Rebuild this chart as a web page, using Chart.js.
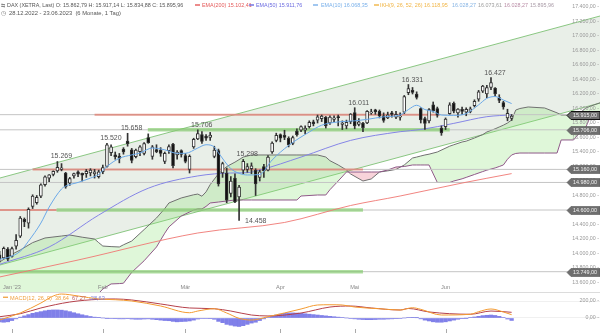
<!DOCTYPE html>
<html><head><meta charset="utf-8"><title>DAX</title>
<script src="https://cdn.jsdelivr.net/npm/chart.js@4.4.0/dist/chart.umd.min.js"></script>
<style>
html,body{margin:0;padding:0;background:#fff;overflow:hidden}
#wrap{position:relative;width:600px;height:333px;background:#fff}
canvas{position:absolute;left:0;display:block}
</style></head><body>
<div id="wrap">
<canvas id="main" width="600" height="292" style="top:0;width:600px;height:292px"></canvas>
<canvas id="macd" width="600" height="41" style="top:292px;width:600px;height:41px"></canvas>
</div>
<script>
// ---------------- DATA ----------------
const opens = [13980,13940,14060,13960,14100,14240,14470,14420,14650,14700,
14790,14950,15040,15090,15140,15160,15110,14970,15070,15125,
15105,15100,15110,15100,15060,15130,15200,15390,15360,15345,
15440,15550,15430,15335,15405,15380,15600,15340,15435,15425,
15270,15420,15510,15360,15420,15350,15160,15470,15580,15640,
15620,15600,15340,15420,15110,15110,14830,15040,14780,15150,
15160,15170,15150,15050,15200,15150,15400,15560,15640,15630,
15590,15520,15690,15700,15700,15750,15815,15840,15860,15880,
15800,15850,15890,15780,15760,15820,15945,15780,15800,15800,
15940,15980,15960,15900,15870,15940,15880,15880,15950,16220,
16250,16200,16000,15860,15830,16050,16000,15730,15750,15930,
16070,15940,15990,15950,15960,16040,16130,16240,16200,16290,
16280,16150,16080,15870,15862.79];
const highs = [14030,14090,14080,14090,14260,14510,14490,14630,14810,14800,
14960,15070,15090,15140,15269,15240,15120,15050,15110,15140,
15110,15160,15170,15160,15150,15220,15520,15500,15400,15380,
15460,15658,15450,15440,15490,15530,15650,15490,15500,15460,
15400,15500,15520,15420,15430,15380,15360,15590,15706,15680,
15640,15670,15480,15440,15260,15180,15060,15100,14940,15298,
15240,15250,15170,15150,15230,15350,15540,15660,15650,15700,
15610,15620,15720,15760,15760,15830,15840,15910,15910,15890,
15900,15900,15910,15830,15840,15930,16011,15860,15810,15970,
15990,15990,15980,15940,15950,15960,15960,15940,16180,16331,
16290,16230,16010,15880,16000,16090,16020,15760,15870,16080,
16090,16000,16020,16010,16020,16120,16250,16320,16320,16427,
16290,16190,16100,15990,15917.14];
const lows = [13880,13930,13900,13950,14060,14220,14370,14350,14620,14680,
14770,14930,14990,15070,15120,15140,14900,14940,15040,15060,
15000,15050,15070,15040,15040,15100,15190,15350,15300,15250,
15370,15480,15250,15320,15350,15360,15520,15300,15390,15340,
15240,15380,15180,15300,15330,15250,15110,15450,15570,15520,
15560,15560,15320,14930,15050,14700,14780,14700,14458,15100,
15120,15100,14800,15000,15050,15140,15380,15540,15540,15570,
15470,15500,15620,15680,15650,15730,15760,15800,15820,15730,
15780,15820,15760,15710,15720,15790,15720,15760,15680,15790,
15920,15920,15870,15810,15860,15880,15860,15840,15930,16190,
16200,16130,15800,15710,15800,15950,15880,15630,15710,15920,
15940,15880,15920,15900,15940,16020,16100,16220,16150,16260,
16170,16080,15990,15830,15834.88];
const closes = [13925,14071,13923,14069,14182,14490,14436,14610,14792,14774,
14948,15058,15086,15134,15187,15181,14920,15033,15103,15094,
15081,15132,15150,15126,15128,15185,15500,15470,15335,15312,
15400,15515,15285,15425,15470,15515,15530,15470,15405,15380,
15380,15475,15210,15400,15365,15270,15340,15575,15655,15545,
15590,15634,15428,14960,15240,14735,15000,14710,14915,15270,
15200,15210,14960,15128,15140,15330,15522,15630,15590,15600,
15500,15598,15640,15750,15729,15810,15790,15885,15895,15760,
15880,15870,15872,15800,15810,15922,15760,15815,15734,15961,
15952,15955,15897,15834,15914,15918,15920,15897,16163,16275,
16223,16152,15842,15793,15984,15970,15909,15664,15853,16051,
15963,15992,15960,15989,15995,16098,16231,16310,16290,16358,
16201,16111,16023,15935,15895.96];

const ema10Idx = [0,2,5,7,10,12,15,16,19,22,24,26,29,32,34,37,40,43,45,48,50,52,53,56,58,60,63,66,70,75,78,82,86,89,93,97,99,101,103,105,107,110,113,116,118,120,122,124];
const ema10Val = [13920,13945,14030,14170,14420,14640,14890,14930,14980,15040,15090,15200,15313,15360,15386,15455,15430,15382,15382,15455,15500,15470,15390,15170,15106,15083,15090,15290,15490,15676,15770,15815,15830,15850,15885,15910,15985,16045,15985,15960,15910,15905,15930,16050,16140,16165,16117,16068];
const ema50Idx = [0,12,24,36,48,56,60,63,73,85,97,102,110,118,124];
const ema50Val = [13850,14090,14530,14900,15070,15110,15115,15150,15330,15560,15680,15710,15795,15887,15912];
const ema200Idx = [0,19,48,69,85,97,112,124];
const ema200Val = [13676,13910,14283,14428,14662,14793,14972,15102];

// Ichimoku cloud (Senkou A = grey, Senkou B = purple), shifted 26 bars ahead
const cloudIdx = [0,3,5,8,11,15,17,20,23,24,25,27,29,30,32,35,38,40,41,44,47,48,49,50,51,53,55,57,59,61,72,73,77,79,80,82,84,85,88,90,92,94,96,98,100,101,102,103,104,106,109,110,112,113,115,117,118,120,121,122,123,124,125,126,128,132,135,136,139,141,142,143,146];
const spanA = [13883,13990,14048,14150,14214,14241,14255,14225,14200,14150,14103,14095,14090,14120,14172,14330,14490,14620,14697,14766,14810,14820,14790,14850,14950,15100,15200,15260,15330,15359,15359,15359,15359,15331,15280,15221,15152,15097,15000,15028,15124,15140,15160,15221,15317,15330,15345,15359,15370,15400,15480,15500,15538,15550,15593,15640,15676,15720,15745,15770,15800,15841,15979,16000,16021,16007,15940,15910,15910,15960,16007,16030,16090];
const spanB = [13250,13250,13250,13250,13250,13250,13250,13250,13300,13450,13510,13580,13585,13590,13740,13900,14090,14280,14366,14517,14600,14614,14614,14650,14697,14710,14724,14738,14738,14738,14738,14793,14807,14807,14880,15000,15124,15124,15124,15124,15124,15152,15193,15200,15221,15221,15221,15221,15221,14980,14980,15000,15030,15050,15090,15130,15150,15180,15200,15221,15300,15359,15380,15386,15386,15386,15386,15566,15566,15700,15745,15883,15910];

// trend channel (bar index -> price)
const channelIdx = [0, 146];
const channelUpper = [15040, 17285];
const channelLower = [13840, 16085];

// horizontal levels
const levels = [15915, 15706, 15160, 14980, 14600, 13749];
const redLevel = [15915, 15160, 14600];
const redFrom = [23, 8, -2];
const redTo = [106.6, 88, 13.8];
const greenLevel = [15706, 14600, 13749];
const greenFrom = [35.9, 13.8, -2];
const greenTo = [109, 88, 88];

// marked extremes (bar index)
const highMarks = [14, 26, 31, 48, 59, 86, 99, 119];
const lowMarks = [58];

// axis ticks
const priceTicks = [13600,13800,14000,14200,14400,14600,14800,15000,15200,15400,15600,15800,16000,16200,16400,16600,16800,17000,17200,17400];
const monthIdx = [3, 25, 45, 68, 86, 108];
const monthLabels = ["Jan '23", "Feb", "Mär", "Apr", "Mai", "Jun"];

// MACD(12,26,9)
const macdIdx = [0,5,10,13,15,19,24,28,32,39,46,48,52,55,58,61,65,73,77,80,83,86,92,97,100,102,107,114,116,119,122,124];
const macdVal = [-24,59,176,259,282,259,224,215,200,141,62,82,109,59,-4,-24,15,106,153,156,153,129,109,94,121,102,35,44,74,106,71,39];
const sigIdx = [0,5,10,17,24,28,32,39,46,52,56,61,65,73,80,85,90,97,99,104,114,119,124];
const sigVal = [15,50,118,188,220,224,212,165,118,109,82,35,24,59,129,141,118,94,112,71,44,82,67];
const hist = [-45,-50,-45,-30,-10,10,25,40,55,65,
75,85,92,95,95,92,85,75,62,50,
38,28,18,10,4,0,-3,-5,-8,-10,
-10,-8,-12,-15,-15,-12,-10,-15,-20,-25,
-30,-32,-40,-45,-42,-40,-35,-25,-12,-5,
-5,-8,-15,-40,-55,-75,-85,-95,-100,-90,
-75,-60,-50,-30,-10,5,20,35,45,55,
60,60,58,55,50,45,40,35,30,25,
20,15,10,5,0,-5,-10,-15,-18,-20,
-20,-18,-15,-15,-12,-10,-8,-5,0,5,
8,3,-10,-25,-35,-45,-50,-50,-45,-35,
-25,-15,-8,-2,5,12,20,28,32,35,
30,20,5,-12,-29];
const macdTicks = [0, 200];

// ---------------- HELPERS ----------------
const FONT = '"Liberation Sans", Arial, Helvetica, sans-serif';
function fmt(v, d) {
  if (d === undefined) d = 2;
  const neg = v < 0; v = Math.abs(v);
  const s = v.toFixed(d).split('.');
  const i = s[0].replace(/\B(?=(\d{3})+(?!\d))/g, '.');
  return (neg ? '-' : '') + i + (d ? ',' + s[1] : '');
}
const pts = (xs, ys) => xs.map((x, i) => ({x: x, y: ys[i]}));
const X_MIN = 0.1, X_MAX = 145.4;
const Y_MIN = 13469.0, Y_MAX = 17496.55;

// ---------------- MAIN CHART ----------------
const ds = [];
const base = {type: 'line', pointRadius: 0, pointHoverRadius: 0, borderWidth: 1, tension: 0, fill: false};
ds.push(Object.assign({}, base, {data: pts(channelIdx, channelUpper), borderColor: 'rgba(120,190,110,0.85)',
  fill: {target: 1, above: 'rgba(165,190,160,0.24)', below: 'rgba(165,190,160,0.24)'}, order: 100}));
ds.push(Object.assign({}, base, {data: pts(channelIdx, channelLower), borderColor: 'rgba(120,190,110,0.85)', order: 99}));
ds.push(Object.assign({}, base, {data: pts(cloudIdx, spanA), borderColor: '#707070',
  fill: {target: 3, above: 'rgba(140,225,120,0.28)', below: 'rgba(235,130,150,0.35)'}, order: 90}));
ds.push(Object.assign({}, base, {data: pts(cloudIdx, spanB), borderColor: '#8e5a88', order: 89}));
levels.forEach(v => ds.push(Object.assign({}, base, {data: [{x: -2, y: v}, {x: 148, y: v}], borderColor: '#c4c4c4', order: 80})));
redLevel.forEach((v, k) => ds.push(Object.assign({}, base, {data: [{x: redFrom[k], y: v}, {x: redTo[k], y: v}], borderColor: 'rgba(225,120,105,0.7)', borderWidth: 2, order: 79})));
greenLevel.forEach((v, k) => ds.push(Object.assign({}, base, {data: [{x: greenFrom[k], y: v}, {x: greenTo[k], y: v}], borderColor: 'rgba(120,200,95,0.6)', borderWidth: 3.5, order: 78})));
ds.push(Object.assign({}, base, {data: pts(ema200Idx, ema200Val), borderColor: 'rgba(240,120,115,0.9)', cubicInterpolationMode: 'monotone', order: 70}));
ds.push(Object.assign({}, base, {data: pts(ema50Idx, ema50Val), borderColor: '#8585e6', cubicInterpolationMode: 'monotone', order: 69}));
ds.push({type: 'bar', data: lows.map((l, i) => ({x: i, y: [l, highs[i]]})), backgroundColor: '#333', barThickness: 1, grouped: false, order: 60});
ds.push({type: 'bar', data: opens.map((o, i) => ({x: i, y: [Math.min(o, closes[i]), Math.max(o, closes[i])]})),
  backgroundColor: opens.map((o, i) => closes[i] >= o ? '#ffffff' : '#111111'),
  borderColor: '#333', borderWidth: 1, borderSkipped: false, barThickness: 3, minBarLength: 1, grouped: false, order: 59});
ds.push(Object.assign({}, base, {data: pts(ema10Idx, ema10Val), borderColor: '#6aa8e8', cubicInterpolationMode: 'monotone', order: 50}));

function drawTag(ctx, v, py, strong) {
  ctx.beginPath();
  ctx.moveTo(567, py); ctx.lineTo(571, py - 4); ctx.lineTo(600, py - 4); ctx.lineTo(600, py + 4); ctx.lineTo(571, py + 4); ctx.closePath();
  ctx.fillStyle = '#6e6e6e'; ctx.fill();
  ctx.lineWidth = strong ? 1 : 0.6; ctx.strokeStyle = strong ? '#111' : '#555'; ctx.stroke();
  ctx.font = '5.4px ' + FONT; ctx.fillStyle = '#f2f2f2'; ctx.textAlign = 'right'; ctx.textBaseline = 'middle';
  ctx.fillText(fmt(v), 597, py + 0.3);
}

// header pieces: text, colour, left x (dash = x of the little colour bar)
const header1 = [
  {x: 7, t: 'DAX (XETRA, Last) O: 15.862,79 H: 15.917,14 L: 15.834,88 C: 15.895,96', c: '#555'},
  {x: 202, t: 'EMA(200) 15.102,41', c: '#e45a5a', dash: 195},
  {x: 256, t: 'EMA(50) 15.911,76', c: '#6b6be0', dash: 249},
  {x: 321, t: 'EMA(10) 16.068,35', c: '#79b0ea', dash: 313},
  {x: 380, t: 'IKH(9, 26, 52, 26) 16.118,95', c: '#f1b545', dash: 374},
  {x: 452, t: '16.028,27', c: '#86b4e4'},
  {x: 478, t: '16.073,61', c: '#9c9c9c'},
  {x: 504, t: '16.028,27', c: '#b98ca5'},
  {x: 530, t: '15.895,96', c: '#a89aa6'}
];

const mainOverlay = {
  id: 'mainOverlay',
  afterDraw(chart) {
    const ctx = chart.ctx, xs = chart.scales.x, ys = chart.scales.y;
    ctx.save();
    ctx.font = '7px ' + FONT; ctx.fillStyle = '#555'; ctx.textBaseline = 'alphabetic'; ctx.textAlign = 'center';
    highMarks.forEach(i => ctx.fillText(fmt(highs[i], 0), xs.getPixelForValue(i) + 4, ys.getPixelForValue(highs[i]) - 3));
    ctx.textAlign = 'left'; ctx.textBaseline = 'middle';
    lowMarks.forEach(i => ctx.fillText(fmt(lows[i], 0), xs.getPixelForValue(i) + 6, ys.getPixelForValue(lows[i]) + 0.5));
    levels.forEach((v, k) => drawTag(ctx, v, Math.round(ys.getPixelForValue(v)) + 0.5, k === 0));
    ctx.font = '5.6px ' + FONT; ctx.fillStyle = '#888'; ctx.textAlign = 'center'; ctx.textBaseline = 'middle';
    monthIdx.forEach((m, k) => ctx.fillText(monthLabels[k], xs.getPixelForValue(m), 287));
    ctx.textAlign = 'left'; ctx.textBaseline = 'alphabetic'; ctx.font = '5.4px ' + FONT;
    ctx.fillStyle = '#888'; ctx.fillText('\u21C6', 1, 7);
    header1.forEach(h => {
      ctx.fillStyle = h.c;
      if (h.dash !== undefined) ctx.fillRect(h.dash, 4.3, 5, 1.4);
      ctx.fillText(h.t, h.x, 7);
    });
    ctx.font = '5.8px ' + FONT;
    ctx.fillStyle = '#777'; ctx.fillText('\u25F7', 1, 15.3);
    ctx.fillStyle = '#555'; ctx.fillText('28.12.2022 - 23.06.2023  (6 Monate, 1 Tag)', 9, 15.3);
    ctx.restore();
  }
};

const yAxisCommon = {
  type: 'linear', position: 'right',
  grid: {display: false, drawTicks: false}, border: {display: false},
  ticks: {mirror: true, padding: -1, z: 1, color: '#999', font: {size: 5.3, family: FONT}, callback: v => fmt(v) + ' -'},
  afterFit: s => { s.paddingTop = 0; s.paddingBottom = 0; s.width = 0; }
};

new Chart(document.getElementById('main'), {
  type: 'line',
  data: {datasets: ds},
  options: {
    responsive: false, animation: false, devicePixelRatio: 1, events: [],
    layout: {padding: 0},
    plugins: {legend: {display: false}, tooltip: {enabled: false}},
    scales: {
      x: {type: 'linear', min: X_MIN, max: X_MAX, display: false, offset: false},
      y: Object.assign({}, yAxisCommon, {min: Y_MIN, max: Y_MAX,
        afterBuildTicks: s => { s.ticks = priceTicks.map(v => ({value: v})); }})
    }
  },
  plugins: [mainOverlay]
});

// ---------------- MACD CHART ----------------
const macdLegend = [
  {t: 'MACD(12, 26, 9)', c: '#f0a040'},
  {t: '38,64', c: '#f0a040'},
  {t: '67,27', c: '#c06060'},
  {t: '-28,63', c: '#8080d8'}
];
const macdOverlay = {
  id: 'macdOverlay',
  afterDraw(chart) {
    const ctx = chart.ctx, xs = chart.scales.x;
    ctx.save();
    ctx.fillStyle = '#dcdcdc'; ctx.fillRect(0, 0, 600, 1);
    ctx.fillStyle = '#aaa';
    monthIdx.forEach(m => ctx.fillRect(Math.round(xs.getPixelForValue(m)), 37, 1, 4));
    ctx.font = '5.6px ' + FONT; ctx.textBaseline = 'alphabetic'; ctx.textAlign = 'left';
    ctx.fillStyle = '#f0a040'; ctx.fillRect(3, 4.6, 5, 1.3);
    let x = 10;
    macdLegend.forEach(p => { ctx.fillStyle = p.c; ctx.fillText(p.t, x, 7.7); x += ctx.measureText(p.t).width + 3; });
    ctx.restore();
  }
};

new Chart(document.getElementById('macd'), {
  type: 'line',
  data: {datasets: [
    Object.assign({}, base, {data: pts(macdIdx, macdVal), borderColor: '#f39a30', cubicInterpolationMode: 'monotone', order: 1}),
    Object.assign({}, base, {data: pts(sigIdx, sigVal), borderColor: '#b5404a', cubicInterpolationMode: 'monotone', order: 2}),
    {type: 'bar', data: hist.map((v, i) => ({x: i, y: v})), backgroundColor: 'rgba(85,85,225,0.75)', barThickness: 3.6, grouped: false, order: 3}
  ]},
  options: {
    responsive: false, animation: false, devicePixelRatio: 1, events: [],
    layout: {padding: 0},
    plugins: {legend: {display: false}, tooltip: {enabled: false}},
    scales: {
      x: {type: 'linear', min: X_MIN, max: X_MAX, display: false, offset: false},
      y: Object.assign({}, yAxisCommon, {min: -176.5, max: 305.9,
        grid: {display: true, drawTicks: false, color: '#f0f0f0'},
        afterBuildTicks: s => { s.ticks = macdTicks.map(v => ({value: v})); }})
    }
  },
  plugins: [macdOverlay]
});
</script>
</body></html>
